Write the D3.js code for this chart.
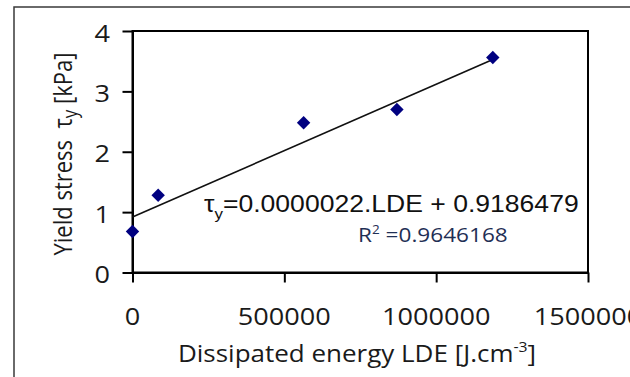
<!DOCTYPE html>
<html>
<head>
<meta charset="utf-8">
<script src="https://cdn.jsdelivr.net/npm/d3@7/dist/d3.min.js"></script>
<style>
  html, body { margin: 0; padding: 0; background: #fff; }
  svg { display: block; }
</style>
</head>
<body>
<svg id="chart" width="630" height="377"></svg>
<script>
// ---- data ----
const ldeValues = [0, 84500, 563500, 870700, 1186500];
const yieldStress = [0.68, 1.28, 2.48, 2.70, 3.56];
const xTickValues = [0, 500000, 1000000, 1500000];
const yTickValues = [0, 1, 2, 3, 4];
const trendSlope = 0.0000022;
const trendIntercept = 0.9186479;
const rSquared = "0.9646168";
const equationText = "=0.0000022.LDE + 0.9186479";
const xTitle = "Dissipated energy LDE [J.cm";
const yTitle = "Yield stress\u00A0\u00A0τ";

// ---- layout ----
const W = 630, H = 377;
const SX = 1.13; // horizontal stretch of the original picture
const plot = { left: 132.5, right: 588, top: 31, bottom: 272.5 };
const sans = "'Open Sans', 'Noto Sans', sans-serif";
const arial = "'Liberation Sans', Arial, sans-serif";

const svg = d3.select("#chart");

// outer frame (extends beyond the picture on right/bottom)
svg.append("rect")
  .attr("x", 14).attr("y", 7).attr("width", 700).attr("height", 500)
  .attr("fill", "none").attr("stroke", "#3a3a3a").attr("stroke-width", 1.5);

const x = d3.scaleLinear().domain([0, 1500000]).range([plot.left, plot.right]);
const y = d3.scaleLinear().domain([0, 4]).range([plot.bottom, plot.top]);

// plot border
svg.append("rect")
  .attr("x", plot.left).attr("y", plot.top)
  .attr("width", plot.right - plot.left).attr("height", plot.bottom - plot.top)
  .attr("fill", "none").attr("stroke", "#000").attr("stroke-width", 2);

// axes (ticks only)
const xAxis = svg.append("g")
  .attr("transform", `translate(0,${plot.bottom})`)
  .call(d3.axisBottom(x).tickValues(xTickValues).tickSize(10).tickSizeOuter(0).tickFormat(""));
const yAxis = svg.append("g")
  .attr("transform", `translate(${plot.left},0)`)
  .call(d3.axisLeft(y).tickValues(yTickValues).tickSize(10).tickSizeOuter(0).tickFormat(""));
[xAxis, yAxis].forEach(a => {
  a.selectAll("path.domain").attr("stroke", "#000").attr("stroke-width", 2);
  a.selectAll(".tick line").attr("stroke", "#000").attr("stroke-width", 2);
});

// tick labels
svg.append("g").selectAll("g").data(xTickValues).join("g")
  .attr("transform", d => `translate(${x(d)},325) scale(${SX},1)`)
  .append("text")
  .attr("text-anchor", "middle")
  .attr("font-family", sans).attr("font-size", 24).attr("fill", "#1a1a1a")
  .text(d => d3.format("d")(d));

svg.append("g").selectAll("g").data(yTickValues).join("g")
  .attr("transform", d => `translate(110,${y(d) + 10.5}) scale(${SX},1)`)
  .append("text")
  .attr("text-anchor", "end")
  .attr("font-family", sans).attr("font-size", 24).attr("fill", "#1a1a1a")
  .text(d => d);

// trend line
const trendX = [0, d3.max(ldeValues)];
svg.append("path")
  .datum(trendX)
  .attr("d", d3.line().x(d => x(d)).y(d => y(trendSlope * d + trendIntercept)))
  .attr("fill", "none").attr("stroke", "#111").attr("stroke-width", 1.6);

// markers (diamonds)
const pts = ldeValues.map((v, i) => [v, yieldStress[i]]);
svg.append("g").selectAll("path").data(pts).join("path")
  .attr("transform", d => `translate(${x(d[0])},${y(d[1])}) rotate(45)`)
  .attr("d", d3.symbol(d3.symbolSquare, 90)())
  .attr("fill", "#000080");

// equation
const eq = svg.append("g").attr("transform", `translate(204,211.7) scale(${SX},1)`)
  .append("text").attr("font-family", arial).attr("font-size", 23.5).attr("fill", "#111");
eq.append("tspan").text("τ");
eq.append("tspan").attr("font-size", 15).attr("dy", 7).text("y");
eq.append("tspan").attr("dy", -7).text(equationText);

// R²
const r2 = svg.append("g").attr("transform", `translate(358,242) scale(${SX},1)`)
  .append("text").attr("font-family", sans).attr("font-size", 20).attr("fill", "#1f2f55");
r2.append("tspan").text("R");
r2.append("tspan").attr("font-size", 12).attr("dy", -8).text("2");
r2.append("tspan").attr("dy", 8).text("\u00A0=" + rSquared);

// x title
const xt = svg.append("g").attr("transform", `translate(357,362) scale(${SX},1)`)
  .append("text").attr("text-anchor", "middle")
  .attr("font-family", sans).attr("font-size", 23).attr("fill", "#1a1a1a");
xt.append("tspan").text(xTitle);
xt.append("tspan").attr("font-size", 14).attr("dy", -10).text("-3");
xt.append("tspan").attr("dy", 10).text("]");

// y title
const yt = svg.append("g").attr("transform", `translate(72,154) scale(${SX},1) rotate(-90)`)
  .append("text").attr("text-anchor", "middle")
  .attr("font-family", sans).attr("font-size", 22).attr("fill", "#1a1a1a");
yt.append("tspan").text(yTitle);
yt.append("tspan").attr("font-size", 17).attr("dy", 4).text("y");
yt.append("tspan").attr("dy", -4).text(" [kPa]");
</script>
</body>
</html>
